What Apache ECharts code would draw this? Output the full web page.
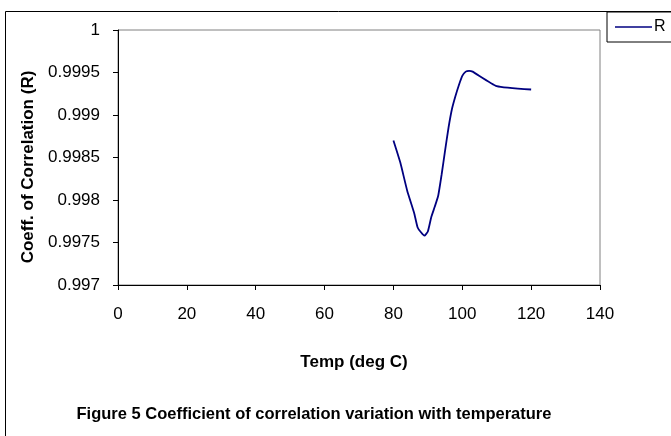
<!DOCTYPE html>
<html>
<head>
<meta charset="utf-8">
<script src="https://cdn.jsdelivr.net/npm/echarts@6/dist/echarts.min.js"></script>
<style>html,body{margin:0;padding:0;background:#fff;}#main{width:671px;height:436px;}</style>
</head>
<body>
<div id="main"></div>
<script>
var temps = [80, 82, 84, 86, 87, 88, 89, 90, 91, 92, 93, 94, 95, 96, 97, 98, 99, 100, 101, 102, 103, 110, 120];
var rValues = [0.99870, 0.99844, 0.99811, 0.99785, 0.99768, 0.99762, 0.99758, 0.99763, 0.99780, 0.99792, 0.99805, 0.99830, 0.99858, 0.99885, 0.99907, 0.99922, 0.99935, 0.99946, 0.99951, 0.99952, 0.99951, 0.99934, 0.99930];
var seriesName = 'R';
var xTitle = 'Temp (deg C)';
var yTitle = 'Coeff. of Correlation (R)';
var caption = 'Figure 5 Coefficient of correlation variation with temperature';

var pts = temps.map(function (t, i) { return [t, rValues[i]]; });
var font = 'Liberation Sans, Arial, sans-serif';
var chart = echarts.init(document.getElementById('main'), null, {renderer: 'canvas'});
chart.setOption({
  animation: false,
  backgroundColor: '#fff',
  textStyle: {fontFamily: font},
  grid: {left: 118, right: 71, top: 30, bottom: 151, show: true, borderColor: '#808080', borderWidth: 1, backgroundColor: 'transparent'},
  legend: {
    left: 607, top: 12, orient: 'vertical',
    data: [seriesName],
    icon: 'rect', itemWidth: 37, itemHeight: 1.5, itemGap: 0,
    borderColor: '#000', borderWidth: 1, padding: [7, 30, 7, 8],
    textStyle: {fontFamily: font, fontSize: 16, color: '#000', padding: [0, 0, 0, -3]}
  },
  xAxis: {
    type: 'value', min: 0, max: 140, interval: 20,
    axisLine: {show: true, lineStyle: {color: '#000', width: 1}},
    axisTick: {show: true, length: 5, lineStyle: {color: '#000'}},
    axisLabel: {margin: 21, fontFamily: font, fontSize: 17, color: '#000'},
    splitLine: {show: false}
  },
  yAxis: {
    type: 'value', min: 0.997, max: 1, interval: 0.0005,
    axisLine: {show: true, lineStyle: {color: '#000', width: 1}},
    axisTick: {show: true, length: 5, lineStyle: {color: '#000'}},
    axisLabel: {margin: 18, fontFamily: font, fontSize: 17, color: '#000',
      formatter: function (v) { return String(+v.toFixed(4)); }},
    splitLine: {show: false}
  },
  graphic: [{
    type: 'rect', silent: true, z: -1,
    shape: {x: 5.5, y: 11.5, width: 800, height: 600},
    style: {fill: 'none', stroke: '#000', lineWidth: 1}
  }, {
    type: 'text', x: 354, y: 362, silent: true,
    style: {text: xTitle, fontFamily: font, fontSize: 17, fontWeight: 'bold', fill: '#000', align: 'center', verticalAlign: 'middle'}
  }, {
    type: 'text', x: 28, y: 167, rotation: Math.PI / 2, silent: true,
    style: {text: yTitle, fontFamily: font, fontSize: 17, fontWeight: 'bold', fill: '#000', align: 'center', verticalAlign: 'middle'}
  }, {
    type: 'text', x: 314, y: 414, silent: true,
    style: {text: caption, fontFamily: font, fontSize: 16.5, fontWeight: 'bold', fill: '#000', align: 'center', verticalAlign: 'middle'}
  }],
  series: [{
    name: seriesName, type: 'line', data: pts,
    showSymbol: false, symbol: 'none', smooth: 0.15,
    lineStyle: {color: '#000080', width: 1.8},
    itemStyle: {color: '#000080'}
  }]
});
</script>
</body>
</html>
